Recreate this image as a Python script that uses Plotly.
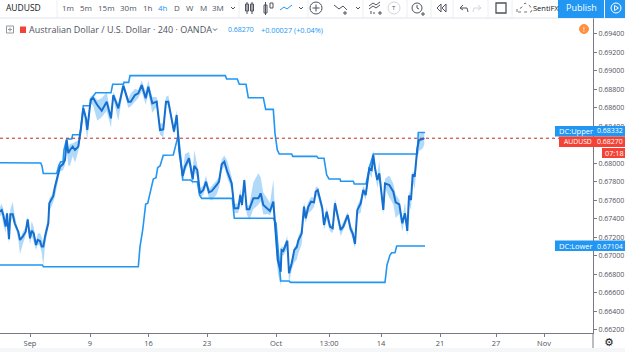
import plotly.graph_objects as go

W, H = 625, 352
PLOT_R, PLOT_T, PLOT_B = 593, 18, 333

# Horizontal position is trading time, so weekends leave no gaps.
tick_pos = [0, 60, 118.5, 177, 246, 299, 351, 410, 466, 514]
tick_text = ["Sep", "9", "16", "23", "Oct", "13:00", "14", "21", "27", "Nov"]
# 0.682 sits behind the last-price badge, so it carries no label.
price_ticks = [0.662, 0.664, 0.666, 0.668, 0.670, 0.672, 0.674, 0.676, 0.678, 0.680,
               0.682, 0.684, 0.686, 0.688, 0.690, 0.692, 0.694]
price_tick_text = ["" if v == 0.682 else f"{v:.5f}" for v in price_ticks]

close_t = [-30, -28.3, -26.7, -24.3, -23, -21, -19.7, -17.3, -15.3, -13.3, -11.7, -10, -7.3, -4.3, -2.3,
           0, 1.7, 3.7, 6, 7.7, 10, 11.7, 13.3, 15, 16.7, 18.3, 19.3, 21.7, 23.3, 25, 26.7,
           30, 33, 35, 36.7, 38.3, 40, 42.7, 45, 48.3, 51, 53.3, 56, 57.3, 60.7, 63.3, 67.3, 71.7, 76.7, 81,
           83.3, 88.3, 93.3, 98.3, 100.7, 105, 108.3, 111.7, 115.7, 118.3, 122.3, 126.7, 130, 133.3, 136,
           138.3, 144, 146.7, 149.3,
           152.7, 155, 159, 162.7, 164.3, 167.3, 170, 173.3, 176, 179, 181.7, 186.7, 189, 191.7, 194.3,
           197.3, 201.7, 204.3, 208.3, 210.3, 212, 214.3, 216.7, 219.3, 223.3, 228.3, 230.7, 233.3, 238.3,
           240, 243.3,
           246, 247.7, 250.7, 251.5, 253.3, 257.3, 259, 261.7, 264.3, 266.7, 268.3, 271.7, 274, 275.7, 278.3,
           281, 284, 285.7, 287.7, 290, 292.3, 294, 296.7, 300, 302.7, 305, 307.7, 310.7, 313.3, 317.7,
           320.7, 322.7, 325, 327.3, 330.7, 333.3, 335.7,
           339.3, 341.7, 343.3, 345, 347.3, 349.3, 353.3, 355, 359.3, 363.3, 365.7, 369.3, 372.3, 375, 377.3,
           379, 381, 382.7, 384.7, 387.3, 389, 392.7, 394.3]
close = [0.67476, 0.67494, 0.67440, 0.67314, 0.67458, 0.67178, 0.67447, 0.67447, 0.67350, 0.67307, 0.67259,
         0.67170, 0.67205, 0.67259, 0.67393,
         0.67188, 0.67270, 0.67242, 0.67116, 0.67170, 0.67159, 0.67098, 0.67098, 0.67205, 0.67296, 0.67350,
         0.67566, 0.67620, 0.67645, 0.67746, 0.67818,
         0.67962, 0.67991, 0.68034, 0.68250, 0.68110, 0.68143, 0.68179, 0.68143, 0.68179, 0.68377, 0.68593,
         0.68485, 0.68359, 0.68690, 0.68701, 0.68629, 0.68567, 0.68665, 0.68485,
         0.68737, 0.68593, 0.68838, 0.68665, 0.68665, 0.68737, 0.68755, 0.68845, 0.68701, 0.68826, 0.68647,
         0.68665, 0.68359, 0.68366, 0.68665,
         0.68665, 0.68341, 0.68521, 0.68125,
         0.67861, 0.67962, 0.68053, 0.67826, 0.67970, 0.67926, 0.67674, 0.67710, 0.67800, 0.67685, 0.67699,
         0.67764, 0.67800, 0.67988, 0.68016,
         0.67908, 0.67782, 0.67512, 0.67512, 0.67656, 0.67548, 0.67818, 0.67501, 0.67501, 0.67620, 0.67620,
         0.67674, 0.67548, 0.67501, 0.67483, 0.67584,
         0.67205, 0.66953, 0.66827, 0.67062, 0.67051, 0.67162, 0.66810, 0.66918, 0.67062, 0.67091, 0.67162,
         0.67242, 0.67530, 0.67404, 0.67530,
         0.67584, 0.67577, 0.67692, 0.67710, 0.67620, 0.67512, 0.67332, 0.67476, 0.67314, 0.67296, 0.67566,
         0.67422, 0.67278, 0.67314, 0.67440,
         0.67285, 0.67242, 0.67126, 0.67494, 0.67566, 0.67710, 0.67656,
         0.67944, 0.67926, 0.68088, 0.67944, 0.67818, 0.67890, 0.67494, 0.67782, 0.67764, 0.67692, 0.67577,
         0.67555, 0.67350, 0.67458, 0.67267,
         0.67649, 0.67602, 0.67880, 0.67854, 0.68161, 0.68250, 0.68261, 0.68270]

# Wick lengths above and below each close, counted in WICK_UNIT steps.
WICK_UNIT = 0.00017
wick_up = [3, 4, 4, 1, 3, 1, 3, 8, 5, 2, 2, 1, 3, 3, 2, 3, 6, 4, 2, 4, 5, 6, 2, 4, 3, 3, 3, 2, 4, 3, 3,
           3, 2, 2, 2, 3, 4, 2, 5, 4, 3, 3, 2, 4, 2, 2, 3, 8, 6, 2, 2, 3, 3, 2, 5, 4, 2, 3, 4, 4, 4, 3, 4, 4, 3, 4, 3, 3, 2,
           3, 8, 4, 6, 10, 3, 3, 3, 4, 2, 3, 3, 3, 3, 4, 7, 4, 3, 3, 4, 3, 2, 2, 3, 10, 16, 10, 8, 6, 5, 14,
           3, 2, 2, 3, 2, 3, 3, 2, 2, 2, 3, 3, 3, 5, 3, 3, 3, 3, 2, 2, 3, 2, 3, 2, 2, 3, 2, 2, 3, 2, 2, 3, 2, 3, 3, 3, 2,
           3, 3, 3, 4, 3, 8, 2, 3, 6, 5, 5, 3, 3, 7, 2, 3, 2, 2, 2, 3, 4, 4, 4]
wick_down = [3, 3, 6, 4, 3, 3, 6, 2, 2, 3, 5, 9, 5, 2, 3, 4, 3, 6, 3, 3, 3, 4, 12, 6, 4, 2, 5, 5, 4, 6, 4,
             3, 4, 3, 6, 8, 10, 6, 8, 3, 4, 2, 8, 6, 2, 5, 10, 4, 6, 6, 2, 8, 2, 4, 3, 4, 3, 4, 4, 4, 6, 3, 3, 5, 2, 2, 2, 5, 3,
             4, 3, 3, 4, 3, 5, 3, 3, 3, 4, 6, 6, 4, 4, 3, 4, 4, 3, 3, 4, 2, 2, 3, 7, 7, 4, 5, 6, 3, 3, 3,
             6, 8, 9, 3, 3, 5, 7, 4, 8, 8, 8, 7, 5, 3, 4, 6, 3, 3, 4, 4, 3, 3, 5, 3, 3, 3, 3, 4, 2, 3, 3, 3, 3, 3, 6, 3, 3,
             3, 5, 3, 3, 5, 3, 3, 3, 8, 8, 10, 6, 5, 3, 3, 6, 6, 5, 8, 6, 7, 6, 4]

upper_t = [-30, 10.7, 12, 13.3, 26.7, 29, 30.7, 33, 34, 36.7, 41.7, 42.7, 50, 53.3, 60, 61.7, 65.7, 81, 82.7,
           93.3, 94, 98.7, 100, 195.3, 196.7, 207.3, 209.3, 216, 218.3, 233.3, 235.7, 243.3, 245, 247.3, 249.3,
           261.7, 262.7, 286.7, 288.3, 294, 296.7, 299, 310, 310.7, 323.3, 324.3, 336, 339.3, 343.3, 387.3, 388.3, 395]
upper = [0.68005, 0.68002, 0.67970, 0.67888, 0.67888, 0.67980, 0.68016, 0.68016, 0.68143, 0.68261, 0.68261,
         0.68308, 0.68308, 0.68621, 0.68621, 0.68701, 0.68762, 0.68762, 0.68853,
         0.68853, 0.68874, 0.68874, 0.68946, 0.68946, 0.68910, 0.68910, 0.68853, 0.68853, 0.68708, 0.68708,
         0.68582, 0.68582, 0.68323, 0.68143, 0.68099,
         0.68099, 0.68074, 0.68074, 0.68053, 0.68053, 0.67872, 0.67829, 0.67829, 0.67804, 0.67804, 0.67775,
         0.67775, 0.67945, 0.68099, 0.68099, 0.68332, 0.68332]

lower_t = [-30, 12.3, 13.5, 108.3, 110, 112.7, 115.7, 117.7, 120, 123.3, 126, 127.7, 130, 133.3, 143.3, 145.7,
           148.3, 150, 152.7, 160.7, 162.7, 167.3, 169.5, 171.7, 202.3, 204.3, 243.3, 246, 248, 250.7, 259,
           260.7, 355, 357, 360, 361.7, 365, 366.7, 395]
lower = [0.66899, 0.66899, 0.66881, 0.66881, 0.67097, 0.67278, 0.67559, 0.67566, 0.67674, 0.67829, 0.67843,
         0.67951, 0.67970, 0.68085, 0.68088, 0.68197, 0.68305, 0.68143, 0.67818, 0.67818, 0.67800, 0.67800,
         0.67656, 0.67620, 0.67620, 0.67404, 0.67404, 0.67353, 0.67062, 0.66726, 0.66726,
         0.66712, 0.66712, 0.66899, 0.67007, 0.67032, 0.67032, 0.67104, 0.67104]

last_price = 0.68270
price_change = "+0.00027 (+0.04%)"
title_text = "Australian Dollar / U.S. Dollar · 240 · OANDA"
intervals = [("1m", 68), ("5m", 86), ("15m", 106), ("30m", 128), ("1h", 148), ("4h", 163),
             ("D", 177), ("W", 190), ("M", 203), ("3M", 218)]

BLUE = "#2196f3"
CLOSE_BLUE = "#146fd0"
BAND = "rgba(100,181,246,0.5)"
RED = "#f44336"
TEXT = "#50535e"
FONT = "Open Sans"

high = [c + u * WICK_UNIT for c, u in zip(close, wick_up)]
low = [c - d * WICK_UNIT for c, d in zip(close, wick_down)]

fig = go.Figure()
fig.add_trace(go.Scatter(x=close_t, y=low, mode="lines", line=dict(width=0), hoverinfo="skip"))
fig.add_trace(go.Scatter(x=close_t, y=high, mode="lines", line=dict(width=0), fill="tonexty",
                         fillcolor=BAND, hoverinfo="skip"))
fig.add_trace(go.Scatter(x=upper_t, y=upper, mode="lines", line=dict(color=BLUE, width=1.6)))
fig.add_trace(go.Scatter(x=lower_t, y=lower, mode="lines", line=dict(color=BLUE, width=1.6)))
fig.add_trace(go.Scatter(x=close_t, y=close, mode="lines", line=dict(color=CLOSE_BLUE, width=2)))


def fx(x):
    return x / W


def fy(y):
    return 1 - y / H


shapes = []
notes = []


def rect(x0, y0, x1, y1, fill=None, line=None, width=1):
    shapes.append(dict(type="rect", xref="paper", yref="paper", x0=fx(x0), x1=fx(x1), y0=fy(y0), y1=fy(y1),
                       fillcolor=fill or "rgba(0,0,0,0)", line=dict(color=line or "rgba(0,0,0,0)", width=width if line else 0)))


def seg(x0, y0, x1, y1, color="#50535e", width=1):
    shapes.append(dict(type="line", xref="paper", yref="paper", x0=fx(x0), x1=fx(x1), y0=fy(y0), y1=fy(y1),
                       line=dict(color=color, width=width)))


def poly(points, color="#50535e", width=1):
    d = "M" + " L".join(f"{fx(x):.5f},{fy(y):.5f}" for x, y in points)
    shapes.append(dict(type="path", xref="paper", yref="paper", path=d, line=dict(color=color, width=width)))


def circle(cx, cy, r, fill=None, line="#50535e"):
    shapes.append(dict(type="circle", xref="paper", yref="paper", x0=fx(cx - r), x1=fx(cx + r), y0=fy(cy + r), y1=fy(cy - r),
                       fillcolor=fill or "rgba(0,0,0,0)", line=dict(color=line, width=1)))


def label(x, y, text, color=TEXT, size=10, anchor="center", family=FONT):
    notes.append(dict(xref="paper", yref="paper", x=fx(x), y=fy(y), text=text, showarrow=False,
                      xanchor=anchor, yanchor="middle", font=dict(family=family, size=size, color=color),
                      borderpad=0, borderwidth=0))


# Last-price guide across the plot
shapes.append(dict(type="line", xref="x", yref="y", x0=-30, x1=563, y0=last_price, y1=last_price,
                   line=dict(color="#c62828", width=1, dash="dot")))

# Toolbar frame
seg(0, 18, 625, 18, "#e0e3eb", 1)
for x in (57, 239, 308, 363, 407, 431, 453, 488, 512):
    seg(x, 0, x, 18, "#eceef2", 1)
label(6, 8, "AUDUSD", "#131722", 8.5, "left")
for name, x in intervals:
    label(x, 8, name, BLUE if name == "4h" else TEXT, 8)
poly([(231, 7), (233, 9), (235, 7)])
# Chart-type icons
for x in (247, 252):
    rect(x - 1.5, 4, x + 1.5, 11, line="#50535e")
    seg(x, 2, x, 14)
rect(264, 5, 267, 13, line="#50535e")
seg(265.5, 2, 265.5, 15)
rect(270, 3, 273, 8, line="#50535e")
poly([(280, 10), (284, 7), (287, 9), (292, 5)], BLUE)
poly([(299, 7), (301, 9), (303, 7)])
circle(316, 8, 6)
seg(312.5, 8, 319.5, 8)
seg(316, 4.5, 316, 11.5)
poly([(334, 5), (339, 9), (343, 6), (347, 10)])
seg(345, 11, 345, 15)
seg(343, 13, 347, 13)
poly([(356, 7), (358, 9), (360, 7)])
poly([(369, 6), (373, 3), (376, 5), (380, 2)])
poly([(369, 9), (373, 6), (376, 8), (380, 5)])
seg(371, 11, 371, 14)
seg(374, 12, 374, 14)
seg(380, 11, 380, 15)
seg(378, 13, 382, 13)
circle(394, 8, 6, line="#d1d4dc")
label(394, 8, "T", TEXT, 6)
circle(417, 8, 5)
poly([(417, 5), (417, 8), (419, 9)])
seg(423, 12, 423, 16)
seg(421, 14, 425, 14)
poly([(441, 4), (437, 8), (441, 12), (441, 4)])
poly([(446, 4), (442, 8), (446, 12), (446, 4)])
poly([(463, 5), (460, 8), (463, 10)])
poly([(460, 8), (467, 8), (468, 12)])
poly([(478, 5), (481, 8), (478, 10)], "#d1d4dc")
poly([(481, 8), (474, 8), (473, 12)], "#d1d4dc")
rect(496, 3, 506, 13, line="#50535e")
shapes[-1]["line"]["width"] = 1.3
poly([(517, 12), (517, 9), (521, 8), (525, 3), (530, 6), (532, 10), (531, 12), (517, 12)], "#50535e", 0.8)
shapes[-1]["line"]["dash"] = "dot"
label(533, 8, "SentiFX", "#131722", 7.5, "left")
rect(558, 0, 604, 18, fill=BLUE)
rect(605, 0, 625, 18, fill=BLUE)
label(581, 8, "Publish", "#ffffff", 9)
circle(616, 8, 5, line="#ffffff")
poly([(614.5, 5.5), (618.5, 8), (614.5, 10.5), (614.5, 5.5)], "#ffffff")

# Legend row
rect(6.5, 26, 13.5, 33, line="#9598a1")
seg(8, 29.5, 12, 29.5, "#9598a1")
seg(10, 27.5, 10, 31.5, "#9598a1")
rect(20, 26.5, 26, 33, fill=RED)
label(29, 30, title_text, TEXT, 9, "left")
poly([(213, 28.5), (215, 30.5), (217, 28.5)])
label(228, 30, f"{last_price:.5f}", BLUE, 7, "left")
label(261, 30, price_change, BLUE, 7.3, "left")
circle(584, 29, 4.5, fill="#ff9040", line="#ff9040")
label(584, 29, "!", "#ffffff", 7)

# Price scale badges
rect(555, 126, 625, 136.5, fill=BLUE)
label(559, 131, "DC:Upper", "#ffffff", 7.5, "left")
label(597, 131, f"{upper[-1]:.5f}", "#ffffff", 7, "left")
rect(559, 136.5, 625, 147, fill=RED)
label(564, 141.5, "AUDUSD", "#ffffff", 6.8, "left")
label(597, 141.5, f"{last_price:.5f}", "#ffffff", 7, "left")
rect(602, 148, 625, 158, fill=RED)
label(605, 153, "07:18", "#ffffff", 7.3, "left")
rect(555, 240.5, 625, 251, fill=BLUE)
label(559, 246, "DC:Lower", "#ffffff", 7.5, "left")
label(597, 246, f"{lower[-1]:.5f}", "#ffffff", 7, "left")

# Footer strip and settings control
rect(0, 348, 625, 352, fill="#f5f6f8")
seg(PLOT_R, 333, PLOT_R, 348, "#787b86", 1)
label(609, 342, "⚙", "#131722", 11, family="DejaVu Sans")

fig.update_layout(
    width=W, height=H, margin=dict(l=0, r=0, t=0, b=0), autosize=False,
    paper_bgcolor="white", plot_bgcolor="white", showlegend=False,
    shapes=shapes, annotations=notes,
    xaxis=dict(domain=[0, PLOT_R / W], range=[-30, 563], tickmode="array", tickvals=tick_pos, ticktext=tick_text,
               showgrid=False, zeroline=False, showline=True, linecolor="#787b86", linewidth=1,
               ticks="outside", ticklen=3, tickcolor="#787b86",
               tickfont=dict(family=FONT, size=7.5, color=TEXT)),
    yaxis=dict(domain=[1 - PLOT_B / H, 1 - PLOT_T / H], side="right",
               range=[0.69764 - PLOT_B * 0.0001081, 0.69764 - PLOT_T * 0.0001081],
               tickmode="array", tickvals=price_ticks, ticktext=price_tick_text,
               showgrid=False, zeroline=False, showline=True, linecolor="#787b86", linewidth=1,
               ticks="outside", ticklen=3, tickcolor="#787b86",
               tickfont=dict(family=FONT, size=7, color=TEXT)),
)
fig.write_html("out.html", config=dict(displayModeBar=False))
